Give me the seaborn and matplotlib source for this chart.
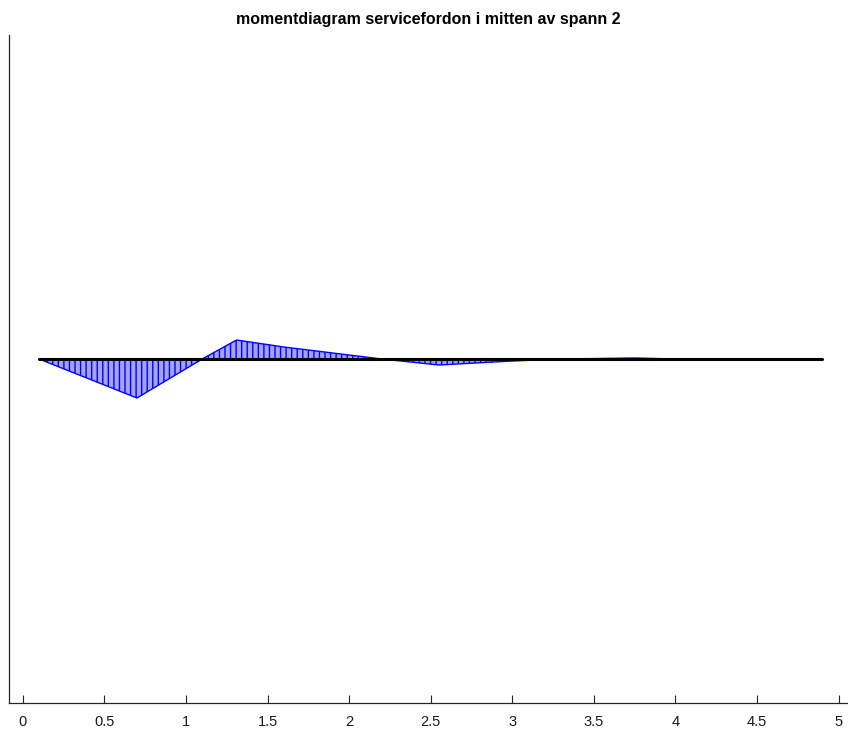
import matplotlib
matplotlib.use("Agg")
import matplotlib.pyplot as plt
import seaborn as sns
import pandas as pd

# Data
position_m = [0.10, 0.70, 1.10, 1.31, 1.60, 2.20, 2.55, 3.00, 3.30, 3.75, 4.00, 4.90]
moment = [0, -390, 0, 190, 120, 0, -60, -20, 0, 10, 0, 0]
axis_line_x = [0.10, 4.90]
axis_line_y = [0, 0]
xtick_values = [0, 0.5, 1, 1.5, 2, 2.5, 3, 3.5, 4, 4.5, 5]
xtick_labels = ["0", "0.5", "1", "1.5", "2", "2.5", "3", "3.5", "4", "4.5", "5"]
title_text = "momentdiagram servicefordon i mitten av spann 2"

sns.set_style("white")
plt.rcParams["font.family"] = ["Liberation Sans", "DejaVu Sans"]
plt.rcParams["hatch.linewidth"] = 1.0
plt.rcParams["hatch.color"] = "#0000ff"

fig = plt.figure(figsize=(8.48, 7.4), dpi=100)
ax = fig.add_axes([9 / 848, 1 - 703 / 740, 1 - 9 / 848, (703 - 35) / 740])

df = pd.DataFrame({"x": position_m, "M": moment})
ax.fill_between(df["x"], df["M"], 0, facecolor="#a4a4ff", edgecolor="#0000ff",
                hatch="|||", linewidth=0)
sns.lineplot(data=df, x="x", y="M", ax=ax, color="#0000ff", linewidth=1.0,
             sort=False, estimator=None)
sns.lineplot(x=axis_line_x, y=axis_line_y, ax=ax, color="black", linewidth=2.2,
             estimator=None)

ax.set_xlim(-0.084, 5.057)
ax.set_ylim(-3440, 3240)
ax.set_xticks(xtick_values)
ax.set_xticklabels(xtick_labels, fontsize=10.5)
ax.set_yticks([])
ax.set_xlabel("")
ax.set_ylabel("")
ax.tick_params(axis="x", direction="in", length=6, width=0.8, color="#262626",
               pad=9, labelcolor="#1a1a1a", bottom=True)
for side in ["top", "right"]:
    ax.spines[side].set_visible(False)
for side in ["left", "bottom"]:
    ax.spines[side].set_color("#262626")
    ax.spines[side].set_linewidth(0.9)

ax.set_title(title_text, fontsize=11.5, fontweight="bold", pad=8, color="black")

fig.savefig("out.png", dpi=100)
